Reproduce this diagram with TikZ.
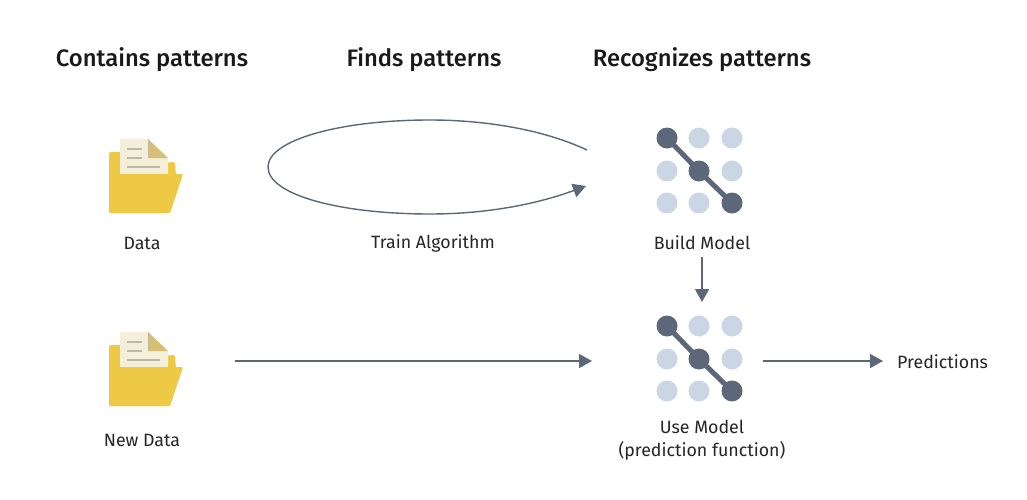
\documentclass[tikz,border=0pt]{standalone}
\usepackage{fontspec}
\setmainfont{Fira Sans}
\newfontfamily\headfont{Fira Sans Medium}
\usetikzlibrary{arrows.meta}

\definecolor{folderyellow}{HTML}{EEC946}
\definecolor{paperwhite}{HTML}{F3EFD9}
\definecolor{foldtan}{HTML}{D6BE72}
\definecolor{papergray}{HTML}{BDB9A8}
\definecolor{slatedark}{HTML}{5C6779}
\definecolor{slatelight}{HTML}{CBD6E4}

\tikzset{
    heading/.style={font=\headfont\fontsize{23.8}{28}\selectfont, text=black!90, inner sep=0pt},
    label/.style={font=\fontsize{17.8}{23}\selectfont, text=black!85, inner sep=0pt, align=center},
    flow/.style={draw=slatedark, line width=1.4pt, -{Triangle[length=13pt,width=14pt]}},
    darkdot/.style={circle, fill=slatedark, minimum size=21pt, inner sep=0pt},
    lightdot/.style={circle, fill=slatelight, minimum size=21pt, inner sep=0pt},
    iconbox/.style={minimum width=#1, minimum height=88pt, inner sep=0pt, outer sep=0pt},
}

% folder icon, #1 = shift to the top copy
\newcommand{\foldericon}[1]{
\begin{scope}[yshift=#1]
    \fill[folderyellow, rounded corners=2pt] (109,213) -- (109,152) -- (122,152) -- (122,165) -- (175,162) -- (176,176) -- (170,213) -- cycle;
    \fill[paperwhite] (120,178) -- (120,139) -- (148,139) -- (168,158) -- (168,176) -- cycle;
    \fill[foldtan] (148,139) -- (168,158) -- (148,158) -- cycle;
    \draw[papergray, line width=1pt] (148,139) -- (148,158);
    \draw[papergray, line width=1.4pt] (127,149) -- (142,149);
    \draw[papergray, line width=1.4pt] (127,158) -- (142,158);
    \draw[papergray, line width=1.4pt] (127,167) -- (160,167);
    \fill[folderyellow, rounded corners=1pt] (109,213) -- (109,180) -- (120,174) -- (183,174) -- (170,213) -- cycle;
\end{scope}
}

% model icon, #1 = name prefix, #2 = shift to the top copy
\newcommand{\modelicon}[2]{
\begin{scope}[yshift=#2]
    \foreach \px/\py/\pname in {699/138/b, 732/138/c, 667/171/d, 732/171/f, 667/203/g, 699/203/h}
        \node[lightdot] (#1\pname) at (\px,\py) {};
    \draw[slatedark, line width=5pt] (667,138) -- (699,171) -- (732,203);
    \node[darkdot] (#1a) at (667,138) {};
    \node[darkdot] (#1e) at (699,171) {};
    \node[darkdot] (#1i) at (732,203) {};
\end{scope}
}

\begin{document}
\begin{tikzpicture}[x=1pt, y=-1pt]

\useasboundingbox[fill=white] (0,0) rectangle (1027,500);

% === Column headings ===
\node[heading] (contains) at (152,60) {Contains patterns};
\node[heading] (finds) at (424,60) {Finds patterns};
\node[heading] (recognizes) at (702,60) {Recognizes patterns};

% === Top row ===
\foldericon{0pt}
\node[label] (data) at (142,243) {Data};
\node[label] (train) at (433,243) {Train Algorithm};
\modelicon{top}{0pt}
\node[label] (build) at (702,243) {Build Model};

% === Bottom row ===
\foldericon{-193pt}
\node[iconbox=76pt] (newfolder) at (146,361) {};
\node[label] (newdata) at (142,440) {New Data};
\modelicon{low}{-188pt}
\node[iconbox=88pt] (usegrid) at (699,361) {};
\node[label] (usemodel) at (702,440) {Use Model\\(prediction function)};
\node[label, anchor=west] (predictions) at (897,362) {Predictions};

% === Training loop ===
\coordinate (loopstart) at (587,150);
\coordinate (loopend) at (586,186);
\draw[flow] (loopstart) .. controls (540,128) and (480,120) .. (430,120)
    .. controls (340,120) and (268,140) .. (268,167)
    .. controls (268,195) and (340,214) .. (430,214)
    .. controls (490,214) and (540,203) .. (loopend);

% === Connectors ===
\draw[flow, shorten >=15pt, shorten <=7pt] (build.south) -- (build.south |- usegrid.north);
\draw[flow, shorten <=51pt, shorten >=63pt] (newfolder.east) -- (usegrid.west);
\draw[flow, shorten <=20pt, shorten >=14pt] (usegrid.east) -- (usegrid.east -| predictions.west);

\end{tikzpicture}
\end{document}
